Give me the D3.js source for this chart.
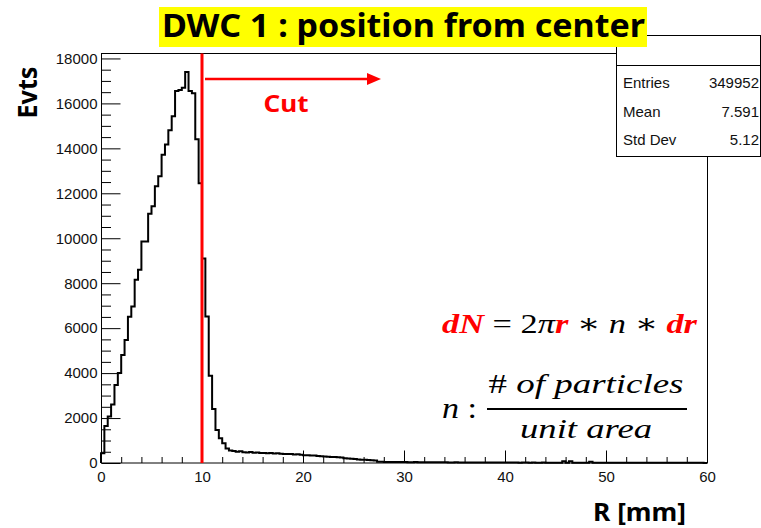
<!DOCTYPE html>
<html>
<head>
<meta charset="utf-8">
<script src="https://cdn.jsdelivr.net/npm/d3@7/dist/d3.min.js"></script>
<style>
  html, body { margin: 0; padding: 0; background: #fff; }
  svg { display: block; }
</style>
</head>
<body>
<svg id="chart" width="761" height="528"></svg>
<script>
// DWC 1 radial position histogram: counts per 1/3 mm bin from 0 to 60 mm
const binWidth = 1 / 3;
const counts = [
  430, 1650, 2070, 2600, 3470, 4000, 4800, 5470, 6510, 6960,
  8150, 8600, 9860, 9860, 11090, 11420, 12310, 12760, 13720, 14170,
  14800, 15430, 16550, 16600, 16700, 17400, 16550, 16450, 14400, 12450,
  9100, 6520, 3880, 2400, 1470, 1100, 880, 650, 560, 530,
  505, 520, 480, 470, 485, 455, 465, 450, 445, 430,
  440, 420, 430, 415, 405, 395, 400, 380, 385, 370,
  350, 340, 330, 335, 315, 305, 290, 280, 270, 265,
  255, 240, 215, 200, 190, 180, 160, 150, 140, 135,
  125, 110, 60, 55, 50, 48, 45, 47, 42, 40,
  43, 38, 36, 39, 35, 33, 36, 32, 30, 31,
  30, 28, 29, 27, 26, 28, 25, 24, 26, 23,
  22, 24, 21, 22, 20, 21, 19, 20, 18, 19,
  18, 20, 17, 18, 16, 19, 17, 15, 18, 16,
  15, 17, 14, 16, 15, 14, 16, 75, 15, 80,
  14, 13, 15, 12, 14, 60, 13, 12, 11, 13,
  12, 11, 10, 12, 11, 10, 11, 9, 10, 11,
  9, 10, 8, 9, 10, 8, 9, 8, 7, 9,
  8, 7, 8, 6, 7, 8, 6, 7, 6, 5
];

const xDomain = [0, 60];
const yDomain = [0, 18220];
const xMajorTicks = [0, 10, 20, 30, 40, 50, 60];
const xMinorTicks = d3.range(0, 61, 2).filter(v => v % 10 !== 0);
const yMajorTicks = [0, 2000, 4000, 6000, 8000, 10000, 12000, 14000, 16000, 18000];
const yMinorTicks = d3.range(0, 18001, 500).filter(v => v % 2000 !== 0);

const cutValue = 10;
const title = "DWC 1 : position from center";
const xTitle = "R [mm]";
const yTitle = "Evts";
const statsRows = [["Entries", "349952"], ["Mean", "7.591"], ["Std Dev", "5.12"]];

const svg = d3.select("#chart");
const plot = { left: 101, right: 707, top: 53.5, bottom: 463 };

const x = d3.scaleLinear().domain(xDomain).range([plot.left, plot.right]);
const y = d3.scaleLinear().domain(yDomain).range([plot.bottom, plot.top]);

const sans = "'Liberation Sans', Arial, sans-serif";
const bold = "'Noto Sans', 'Noto Sans CJK KR', sans-serif";
const serif = "'Liberation Serif', 'DejaVu Serif', serif";

// frame
svg.append("rect")
  .attr("x", plot.left + 0.5).attr("y", plot.top)
  .attr("width", plot.right - plot.left).attr("height", plot.bottom - plot.top)
  .attr("fill", "none").attr("stroke", "#000").attr("stroke-width", 1);

// axes with inward ticks
function styleAxis(g) {
  g.select(".domain").remove();
  g.selectAll("line").attr("stroke", "#000").attr("stroke-width", 1);
  g.selectAll("text").attr("font-family", sans).attr("font-size", 15).attr("fill", "#111");
}

svg.append("g")
  .attr("transform", `translate(${plot.left + 0.5},0)`)
  .call(d3.axisLeft(y).tickValues(yMajorTicks).tickSize(-19).tickPadding(4).tickFormat(d3.format("d")))
  .call(styleAxis);
svg.append("g")
  .attr("transform", `translate(${plot.left + 0.5},0)`)
  .call(d3.axisLeft(y).tickValues(yMinorTicks).tickSize(-9.5).tickFormat(""))
  .call(styleAxis);

svg.append("g")
  .attr("transform", `translate(0,${plot.bottom})`)
  .call(d3.axisBottom(x).tickValues(xMajorTicks).tickSize(-12.5).tickPadding(8).tickFormat(d3.format("d")))
  .call(styleAxis);
svg.append("g")
  .attr("transform", `translate(0,${plot.bottom})`)
  .call(d3.axisBottom(x).tickValues(xMinorTicks).tickSize(-6).tickFormat(""))
  .call(styleAxis);

// histogram outline
const pts = [[x(0), y(0)]];
counts.forEach((c, i) => {
  const lo = i * binWidth, hi = (i + 1) * binWidth;
  pts.push([x(lo), y(c)], [x(hi), y(c)]);
});
svg.append("path")
  .attr("d", d3.line()(pts))
  .attr("fill", "none").attr("stroke", "#000").attr("stroke-width", 2)
  .attr("stroke-linejoin", "miter");

// cut line and arrow
const red = "#f00";
svg.append("line")
  .attr("x1", x(cutValue)).attr("x2", x(cutValue))
  .attr("y1", plot.top).attr("y2", plot.bottom)
  .attr("stroke", red).attr("stroke-width", 3);
svg.append("line")
  .attr("x1", x(cutValue) + 3).attr("x2", 370)
  .attr("y1", 79).attr("y2", 79)
  .attr("stroke", red).attr("stroke-width", 2.5);
svg.append("path")
  .attr("d", "M367,73 L381,79 L367,85 Z")
  .attr("fill", red);
svg.append("text")
  .attr("x", 286).attr("y", 112)
  .attr("text-anchor", "middle")
  .attr("font-family", bold).attr("font-weight", 700).attr("font-size", 23)
  .attr("textLength", 45).attr("lengthAdjust", "spacingAndGlyphs")
  .attr("fill", red).text("Cut");

// formula: dN = 2πr * n * dr
const f1 = svg.append("text")
  .attr("x", 442).attr("y", 333)
  .attr("font-family", serif).attr("font-size", 28)
  .attr("textLength", 255).attr("lengthAdjust", "spacingAndGlyphs");
[
  ["dN", true], [" = 2", false], ["π", "i"], ["r", true], [" ∗ ", false], ["n", "i"], [" ∗ ", false], ["dr", true]
].forEach(([t, k]) => {
  const s = f1.append("tspan").text(t);
  if (k === true) s.attr("font-weight", 700).attr("font-style", "italic").attr("fill", red);
  else if (k === "i") s.attr("font-style", "italic").attr("fill", "#000");
  else s.attr("fill", "#000");
});

// n : (# of particles) / (unit area)
svg.append("text")
  .attr("x", 442).attr("y", 418)
  .attr("font-family", serif).attr("font-size", 30)
  .attr("textLength", 35).attr("lengthAdjust", "spacingAndGlyphs")
  .call(t => {
    t.append("tspan").attr("font-style", "italic").text("n");
    t.append("tspan").text(" :");
  });
const num = svg.append("text")
  .attr("x", 586).attr("y", 393).attr("text-anchor", "middle")
  .attr("font-family", serif).attr("font-size", 28)
  .attr("textLength", 195).attr("lengthAdjust", "spacingAndGlyphs");
num.append("tspan").text("# ");
num.append("tspan").attr("font-style", "italic").text("of particles");
svg.append("line")
  .attr("x1", 487).attr("x2", 687).attr("y1", 409).attr("y2", 409)
  .attr("stroke", "#000").attr("stroke-width", 2);
svg.append("text")
  .attr("x", 586).attr("y", 438).attr("text-anchor", "middle")
  .attr("font-family", serif).attr("font-size", 28).attr("font-style", "italic")
  .attr("textLength", 132).attr("lengthAdjust", "spacingAndGlyphs")
  .text("unit area");

// axis titles
svg.append("text")
  .attr("transform", "translate(36.5,92.5) rotate(-90)")
  .attr("text-anchor", "middle")
  .attr("font-family", bold).attr("font-weight", 700).attr("font-size", 26)
  .attr("textLength", 52).attr("lengthAdjust", "spacingAndGlyphs")
  .text(yTitle);
svg.append("text")
  .attr("x", 593).attr("y", 521)
  .attr("font-family", bold).attr("font-weight", 700).attr("font-size", 25)
  .attr("textLength", 93).attr("lengthAdjust", "spacingAndGlyphs")
  .text(xTitle);

// statistics box
const box = { x: 616.5, y: 35.5, w: 144, h: 121 };
svg.append("rect")
  .attr("x", box.x).attr("y", box.y).attr("width", box.w).attr("height", box.h)
  .attr("fill", "#fff").attr("stroke", "#000").attr("stroke-width", 1);
svg.append("line")
  .attr("x1", box.x).attr("x2", box.x + box.w).attr("y1", 65.5).attr("y2", 65.5)
  .attr("stroke", "#000").attr("stroke-width", 1);
const rowY = [87.5, 117, 145];
statsRows.forEach(([k, v], i) => {
  svg.append("text").attr("x", 623).attr("y", rowY[i])
    .attr("font-family", sans).attr("font-size", 15).attr("fill", "#111").text(k);
  svg.append("text").attr("x", 759).attr("y", rowY[i]).attr("text-anchor", "end")
    .attr("font-family", sans).attr("font-size", 15).attr("fill", "#111").text(v);
});

// title banner
svg.append("rect")
  .attr("x", 159).attr("y", 7).attr("width", 488).attr("height", 40)
  .attr("fill", "#ffff00");
svg.append("text")
  .attr("x", 162).attr("y", 37)
  .attr("font-family", bold).attr("font-weight", 700).attr("font-size", 32)
  .attr("textLength", 483).attr("lengthAdjust", "spacingAndGlyphs")
  .attr("fill", "#000")
  .text(title);
</script>
</body>
</html>
